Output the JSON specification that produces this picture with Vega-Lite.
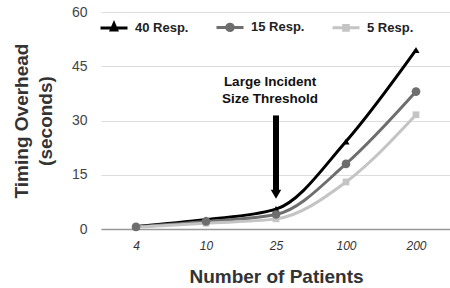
{
  "$schema": "https://vega.github.io/schema/vega-lite/v6.json",
  "width": 350,
  "height": 217,
  "autosize": "none",
  "padding": {"left": 101, "top": 12, "right": 0, "bottom": 59},
  "background": "white",
  "config": {
    "view": {"stroke": null},
    "font": "Liberation Sans"
  },
  "datasets": {
    "series": [
      {"patients": "4", "series": "40 Resp.", "overhead": 0.7},
      {"patients": "10", "series": "40 Resp.", "overhead": 2.6},
      {"patients": "25", "series": "40 Resp.", "overhead": 5.5},
      {"patients": "100", "series": "40 Resp.", "overhead": 24.2},
      {"patients": "200", "series": "40 Resp.", "overhead": 49.5},
      {"patients": "4", "series": "15 Resp.", "overhead": 0.6},
      {"patients": "10", "series": "15 Resp.", "overhead": 2.1},
      {"patients": "25", "series": "15 Resp.", "overhead": 4.0},
      {"patients": "100", "series": "15 Resp.", "overhead": 18.0},
      {"patients": "200", "series": "15 Resp.", "overhead": 38.0},
      {"patients": "4", "series": "5 Resp.", "overhead": 0.5},
      {"patients": "10", "series": "5 Resp.", "overhead": 1.6},
      {"patients": "25", "series": "5 Resp.", "overhead": 2.8},
      {"patients": "100", "series": "5 Resp.", "overhead": 13.0},
      {"patients": "200", "series": "5 Resp.", "overhead": 31.6}
    ]
  },
  "layer": [
    {
      "data": {"name": "series"},
      "mark": {"type": "line", "interpolate": "monotone", "strokeWidth": 3},
      "encoding": {
        "x": {
          "field": "patients", "type": "ordinal",
          "scale": {"type": "point", "padding": 0.5, "domain": ["4", "10", "25", "100", "200"]},
          "axis": {
            "title": "Number of Patients", "titleFontSize": 19, "titleFontWeight": "bold", "titleColor": "#333",
            "titlePadding": 16,
            "labelAngle": 0, "labelFontStyle": "italic", "labelFontSize": 12, "labelColor": "#333",
            "labelPadding": 11, "ticks": false, "domainColor": "#999", "domainWidth": 1.5, "grid": false
          }
        },
        "y": {
          "field": "overhead", "type": "quantitative",
          "scale": {"domain": [0, 60]},
          "axis": {
            "values": [0, 15, 30, 45, 60],
            "title": ["Timing Overhead", "(seconds)"], "titleFontSize": 19, "titleFontWeight": "bold", "titleColor": "#333",
            "titlePadding": 16, "titleLineHeight": 24,
            "labelFontSize": 14, "labelColor": "#444", "labelPadding": 14,
            "ticks": false, "domain": false, "gridColor": "#dddddd", "gridWidth": 1
          }
        },
        "color": {
          "field": "series", "type": "nominal",
          "scale": {"domain": ["40 Resp.", "15 Resp.", "5 Resp."], "range": ["#000000", "#6e6e6e", "#c4c4c4"]},
          "legend": {
            "title": null, "orient": "none", "legendX": -2, "legendY": 0, "direction": "horizontal",
            "gridAlign": "all", "columnPadding": 21,
            "labelFontSize": 13, "labelFontWeight": "bold", "labelColor": "#222", "labelOffset": 6,
            "symbolSize": 729, "symbolStrokeWidth": 3,
            "encode": {
              "symbols": {
                "update": {
                  "shape": {"signal": "datum.value === '40 Resp.' ? 'M-1,0H1M0,-0.3L0.2,0.16L-0.2,0.16Z' : datum.value === '15 Resp.' ? 'M-1,0H1M0.24,0A0.24,0.24 0 1,1 -0.24,0A0.24,0.24 0 1,1 0.24,0Z' : 'M-1,0H1M-0.17,-0.17H0.17V0.17H-0.17Z'"},
                  "fill": {"signal": "datum.value === '40 Resp.' ? '#000000' : datum.value === '15 Resp.' ? '#6e6e6e' : '#c4c4c4'"},
                  "stroke": {"signal": "datum.value === '40 Resp.' ? '#000000' : datum.value === '15 Resp.' ? '#6e6e6e' : '#c4c4c4'"},
                  "strokeWidth": {"value": 3}
                }
              }
            }
          }
        }
      }
    },
    {
      "data": {"name": "series"},
      "transform": [{"filter": "datum.series === '5 Resp.'"}],
      "mark": {"type": "point", "shape": "square", "filled": true, "opacity": 1, "size": 45},
      "encoding": {
        "x": {"field": "patients", "type": "ordinal"},
        "y": {"field": "overhead", "type": "quantitative"},
        "color": {"field": "series", "type": "nominal"}
      }
    },
    {
      "data": {"name": "series"},
      "transform": [{"filter": "datum.series === '40 Resp.'"}],
      "mark": {"type": "point", "shape": "triangle-up", "filled": true, "opacity": 1, "size": 50},
      "encoding": {
        "x": {"field": "patients", "type": "ordinal"},
        "y": {"field": "overhead", "type": "quantitative"},
        "color": {"field": "series", "type": "nominal"}
      }
    },
    {
      "data": {"name": "series"},
      "transform": [{"filter": "datum.series === '15 Resp.'"}],
      "mark": {"type": "point", "shape": "circle", "filled": true, "opacity": 1, "size": 75},
      "encoding": {
        "x": {"field": "patients", "type": "ordinal"},
        "y": {"field": "overhead", "type": "quantitative"},
        "color": {"field": "series", "type": "nominal"}
      }
    },
    {
      "data": {"values": [{"patients": "25", "top": 31.4, "bottom": 10.7}]},
      "mark": {"type": "rule", "strokeWidth": 6, "color": "#000000"},
      "encoding": {
        "x": {"field": "patients", "type": "ordinal"},
        "y": {"field": "top", "type": "quantitative"},
        "y2": {"field": "bottom"}
      }
    },
    {
      "data": {"values": [{"patients": "25", "tip": 9.6}]},
      "mark": {"type": "point", "shape": "triangle-down", "filled": true, "size": 110, "color": "#000000", "opacity": 1},
      "encoding": {
        "x": {"field": "patients", "type": "ordinal"},
        "y": {"field": "tip", "type": "quantitative"}
      }
    },
    {
      "data": {"values": [{"patients": "25", "pos": 40.7, "label": "Large Incident\nSize Threshold"}]},
      "mark": {"type": "text", "lineBreak": "\n", "fontSize": 13.5, "fontWeight": "bold", "color": "#111", "dx": -6, "lineHeight": 17, "baseline": "middle"},
      "encoding": {
        "x": {"field": "patients", "type": "ordinal"},
        "y": {"field": "pos", "type": "quantitative"},
        "text": {"field": "label"}
      }
    }
  ]
}
